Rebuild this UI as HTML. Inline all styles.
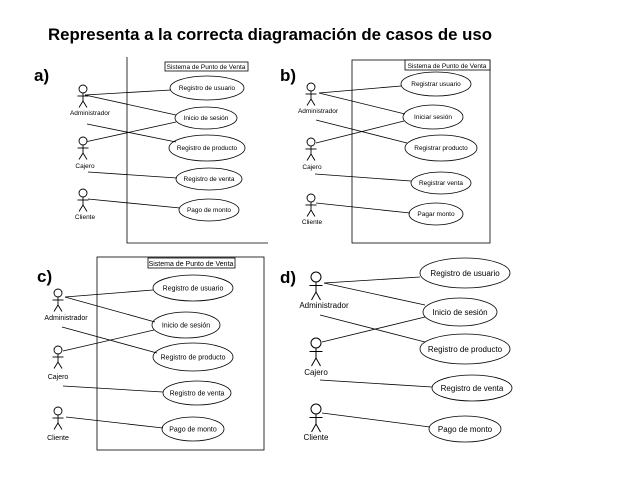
<!DOCTYPE html>
<html><head><meta charset="utf-8"><style>
html,body{margin:0;padding:0;background:#fff;}
svg{display:block;}
.t{font-family:"Liberation Sans",sans-serif;fill:#000;}
</style></head><body>
<svg width="636" height="496" viewBox="0 0 636 496" xmlns="http://www.w3.org/2000/svg">
<defs>
<g id="act" fill="#fff" stroke="#000" stroke-width="0.9">
<circle cx="0" cy="0" r="4"/>
<line x1="0" y1="4" x2="0" y2="12"/>
<line x1="-5.5" y1="7" x2="5.5" y2="7"/>
<line x1="0" y1="12" x2="-4" y2="18.5"/>
<line x1="0" y1="12" x2="4" y2="18.5"/>
</g>
<g id="actL" fill="#fff" stroke="#000" stroke-width="1">
<circle cx="0" cy="0" r="5"/>
<line x1="0" y1="5" x2="0" y2="15"/>
<line x1="-6.5" y1="8.5" x2="6.5" y2="8.5"/>
<line x1="0" y1="15" x2="-4.5" y2="23"/>
<line x1="0" y1="15" x2="4.5" y2="23"/>
</g>
</defs>
<text class="t" x="48" y="40" font-size="16.8" font-weight="bold">Representa a la correcta diagramación de casos de uso</text>

<g stroke="#000" stroke-width="0.8" fill="#fff">
<!-- a -->
<polyline points="127,57 127,243 268,243" fill="none"/>
<rect x="165" y="62" width="83" height="9"/>
<ellipse cx="207" cy="88" rx="37" ry="12"/>
<ellipse cx="206" cy="118" rx="31" ry="11"/>
<ellipse cx="207" cy="148" rx="38" ry="13"/>
<ellipse cx="209" cy="179" rx="33" ry="11"/>
<ellipse cx="209" cy="210" rx="30" ry="11"/>
<line x1="85" y1="95" x2="171" y2="90"/>
<line x1="85" y1="95" x2="176" y2="115"/>
<line x1="87" y1="124" x2="176" y2="142"/>
<line x1="85" y1="142" x2="176" y2="122"/>
<line x1="88" y1="172" x2="177" y2="178"/>
<line x1="88" y1="199" x2="180" y2="208"/>
<!-- b -->
<rect x="352" y="60" width="138" height="183"/>
<rect x="405" y="60" width="85" height="10"/>
<ellipse cx="436" cy="84" rx="35" ry="12"/>
<ellipse cx="433" cy="117" rx="30" ry="12"/>
<ellipse cx="441" cy="148" rx="36" ry="13"/>
<ellipse cx="441" cy="183" rx="30" ry="11"/>
<ellipse cx="436" cy="214" rx="27" ry="11"/>
<line x1="319" y1="93" x2="401" y2="86"/>
<line x1="319" y1="93" x2="405" y2="114"/>
<line x1="316" y1="120" x2="407" y2="143"/>
<line x1="316" y1="143" x2="404" y2="121"/>
<line x1="315" y1="174" x2="411" y2="181"/>
<line x1="316" y1="203" x2="410" y2="213"/>
<!-- c -->
<rect x="97" y="257" width="167" height="193"/>
<rect x="148" y="258" width="87" height="10"/>
<ellipse cx="193" cy="288" rx="40" ry="13"/>
<ellipse cx="186" cy="325" rx="34" ry="13"/>
<ellipse cx="193" cy="357" rx="40" ry="14"/>
<ellipse cx="197" cy="393" rx="34" ry="12"/>
<ellipse cx="193" cy="429" rx="31" ry="12"/>
<line x1="65" y1="297" x2="153" y2="290"/>
<line x1="65" y1="297" x2="155" y2="322"/>
<line x1="62" y1="327" x2="157" y2="353"/>
<line x1="63" y1="351" x2="154" y2="330"/>
<line x1="63" y1="386" x2="163" y2="392"/>
<line x1="66" y1="417" x2="163" y2="428"/>
<!-- d -->
<ellipse cx="465" cy="273" rx="45" ry="15"/>
<ellipse cx="460" cy="312" rx="37" ry="14"/>
<ellipse cx="465" cy="349" rx="45" ry="15"/>
<ellipse cx="472" cy="388" rx="40" ry="13"/>
<ellipse cx="465" cy="429" rx="36" ry="13"/>
<line x1="324" y1="283" x2="420" y2="277"/>
<line x1="324" y1="283" x2="425" y2="305"/>
<line x1="320" y1="315" x2="425" y2="342"/>
<line x1="322" y1="342" x2="425" y2="317"/>
<line x1="320" y1="380" x2="432" y2="387"/>
<line x1="322" y1="413" x2="430" y2="427"/>
</g>

<use href="#act" x="83" y="89"/><use href="#act" x="83" y="141"/><use href="#act" x="83" y="193"/>
<use href="#act" x="311" y="87"/><use href="#act" x="311" y="142"/><use href="#act" x="311" y="198"/>
<use href="#act" x="58" y="293"/><use href="#act" x="58" y="350"/><use href="#act" x="58" y="411"/>
<use href="#actL" x="316" y="277"/><use href="#actL" x="316" y="343"/><use href="#actL" x="316" y="409"/>

<g class="t" font-size="17" font-weight="bold">
<text x="34" y="81">a)</text><text x="280" y="81">b)</text>
<text x="37" y="282">c)</text><text x="280" y="283">d)</text>
</g>

<g class="t" font-size="6.5" text-anchor="middle">
<text x="206" y="69">Sistema de Punto de Venta</text>
<text x="207" y="90">Registro de usuario</text>
<text x="206" y="120">Inicio de sesión</text>
<text x="207" y="150">Registro de producto</text>
<text x="209" y="181">Registro de venta</text>
<text x="209" y="212">Pago de monto</text>
<text x="90" y="115">Administrador</text>
<text x="85" y="168">Cajero</text>
<text x="85" y="219">Cliente</text>

<text x="447" y="68">Sistema de Punto de Venta</text>
<text x="436" y="86">Registrar usuario</text>
<text x="433" y="119">Iniciar sesión</text>
<text x="441" y="150">Registrar producto</text>
<text x="441" y="185">Registrar venta</text>
<text x="436" y="216">Pagar monto</text>
<text x="318" y="113">Administrador</text>
<text x="312" y="169">Cajero</text>
<text x="312" y="224">Cliente</text>
</g>
<g class="t" font-size="7" text-anchor="middle">
<text x="191" y="266">Sistema de Punto de Venta</text>
<text x="193" y="290.5">Registro de usuario</text>
<text x="186" y="327.5">Inicio de sesión</text>
<text x="193" y="359.5">Registro de producto</text>
<text x="197" y="395.5">Registro de venta</text>
<text x="193" y="431.5">Pago de monto</text>
<text x="66" y="320">Administrador</text>
<text x="58" y="379">Cajero</text>
<text x="58" y="440">Cliente</text>
</g>
<g class="t" font-size="8" text-anchor="middle">
<text x="465" y="276">Registro de usuario</text>
<text x="460" y="315">Inicio de sesión</text>
<text x="465" y="352">Registro de producto</text>
<text x="472" y="391">Registro de venta</text>
<text x="465" y="432">Pago de monto</text>
<text x="324" y="308">Administrador</text>
<text x="316" y="375">Cajero</text>
<text x="316" y="440">Cliente</text>
</g>
</svg>
</body></html>
